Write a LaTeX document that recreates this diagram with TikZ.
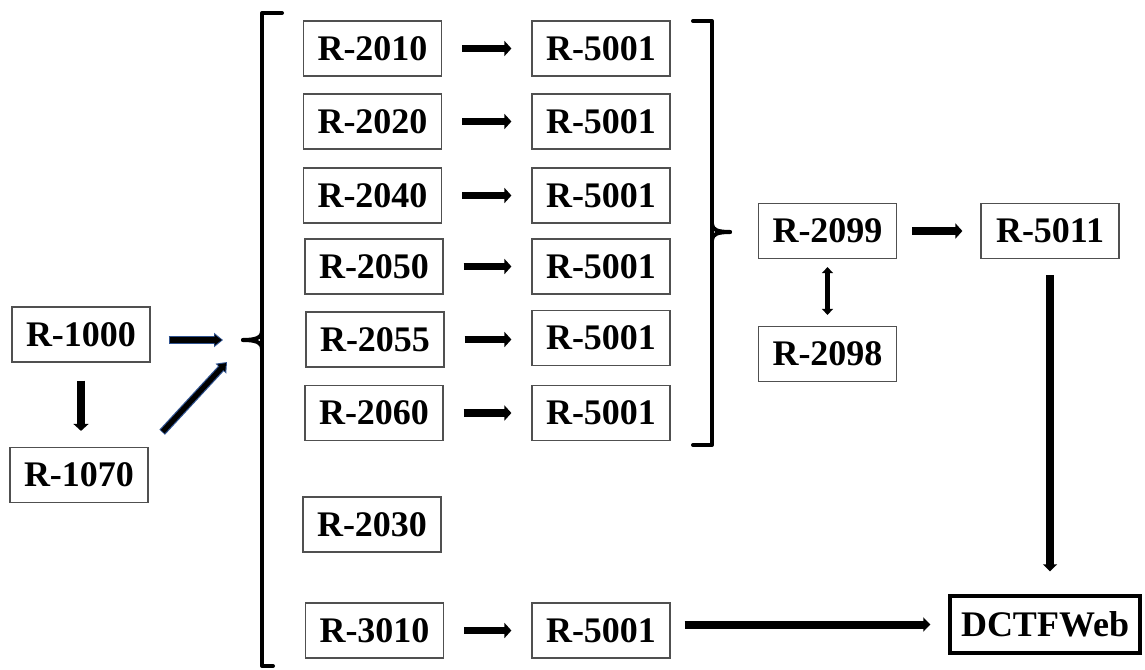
\documentclass[tikz,border=0pt]{standalone}
\usepackage{fontspec}
\setmainfont{Liberation Serif}
\usetikzlibrary{arrows.meta,positioning}

\begin{document}
\begin{tikzpicture}[x=0.5pt,y=-0.5pt]
% Define colours
\definecolor{boxline}{HTML}{505050}
\definecolor{arrblue}{HTML}{2F528F}
\tikzset{
  rbox/.style={draw=boxline,line width=0.6pt,minimum width=69pt,minimum height=27.5pt,
    inner sep=0pt,font=\fontsize{18}{20}\selectfont\bfseries},
  arr/.style={line width=3.6pt,-{Triangle[length=3.5pt,width=7.5pt]}},
  bigarr/.style={line width=3.6pt,-{Triangle[length=3.5pt,width=7pt]}},
  brk/.style={line width=2pt,line cap=round,line join=round}
}
\useasboundingbox (0,0) rectangle (1145,669);

% Left block
\node[rbox] (r1000) at (81,334.5) {R-1000};
\node[rbox] (r1070) at (79,475) {R-1070};
\coordinate (lcusp) at (243,340);
\coordinate (dtip) at (227,362);

% Rows inside the brackets
\node[rbox] (r2010) at (372.5,48.5) {R-2010};
\node[rbox] (r2020) at (372.5,121.5) {R-2020};
\node[rbox] (r2040) at (372.5,195.5) {R-2040};
\node[rbox] (r2050) at (374,266.5) {R-2050};
\node[rbox] (r2055) at (375,339.5) {R-2055};
\node[rbox] (r2060) at (374,413) {R-2060};
\node[rbox] (r2030) at (372,524.5) {R-2030};
\node[rbox] (r3010) at (374.5,630.5) {R-3010};

\node[rbox] (r5001a) at (601,48.5) {R-5001};
\node[rbox] (r5001b) at (601,121.5) {R-5001};
\node[rbox] (r5001c) at (601,195.5) {R-5001};
\node[rbox] (r5001d) at (601,266.5) {R-5001};
\node[rbox] (r5001e) at (601,338) {R-5001};
\node[rbox] (r5001f) at (601,413) {R-5001};
\node[rbox] (r5001g) at (601,630.5) {R-5001};

% Right block
\coordinate (rcusp) at (730,232);
\node[rbox] (r2099) at (827.5,231) {R-2099};
\node[rbox] (r2098) at (827.5,354) {R-2098};
\node[rbox] (r5011) at (1050,231) {R-5011};
\node[rbox,draw=black,line width=1.7pt,minimum width=95pt,minimum height=28.5pt] (dctf) at (1045,624.5) {DCTFWeb};

% Brackets
\draw[brk] (282,13) -- (262,13) -- (262,666) -- (273,666);
\draw[brk] (lcusp) .. controls (255,340) and (262,338) .. (262,331);
\draw[brk] (lcusp) .. controls (255,340) and (262,342) .. (262,349);
\draw[brk] (693,21) -- (712,21) -- (712,445) -- (693,445);
\draw[brk] (rcusp) .. controls (718,232) and (712,230) .. (712,224);
\draw[brk] (rcusp) .. controls (718,232) and (712,234) .. (712,240);

% Arrows
\draw[arr,shorten <=9pt,shorten >=8pt] (r1000.south) -- (r1000.south |- r1070.north);
\draw[arrblue,line width=3.8pt,-{Triangle[length=4.5pt,width=7pt]},shorten <=9pt,shorten >=10pt]
  (r1000.east |- lcusp) -- (lcusp);
\draw[line width=2.6pt,-{Triangle[length=3.5pt,width=5pt]},shorten <=9.6pt,shorten >=10.7pt]
  (r1000.east |- lcusp) -- (lcusp);
\draw[arrblue,line width=3.8pt,-{Triangle[length=4.5pt,width=7pt]},shorten <=10pt]
  (r1070.north east) -- (dtip);
\draw[line width=2.6pt,-{Triangle[length=3.5pt,width=5pt]},shorten <=10.4pt,shorten >=0.7pt]
  (r1070.north east) -- (dtip);

\foreach \a/\b in {r2010/r5001a,r2020/r5001b,r2040/r5001c,r2050/r5001d,r2055/r5001e,r2060/r5001f,r3010/r5001g}
  \draw[arr,shorten <=10pt,shorten >=10pt] (\a.east) -- (\a.east -| \b.west);

\draw[arr,shorten <=7.5pt,shorten >=9pt] (r2099) -- (r5011);
\draw[line width=2.2pt,{Triangle[length=3pt,width=5.5pt]}-{Triangle[length=3pt,width=5.5pt]},
  shorten <=4pt,shorten >=5.5pt] (r2099) -- (r2098);
\draw[bigarr,shorten <=8pt,shorten >=11.5pt] (r5011.south) -- (r5011.south |- dctf.north);
\draw[bigarr,line width=4pt,shorten <=7pt,shorten >=9pt] (r5001g.east |- dctf) -- (dctf.west);
\end{tikzpicture}
\end{document}
